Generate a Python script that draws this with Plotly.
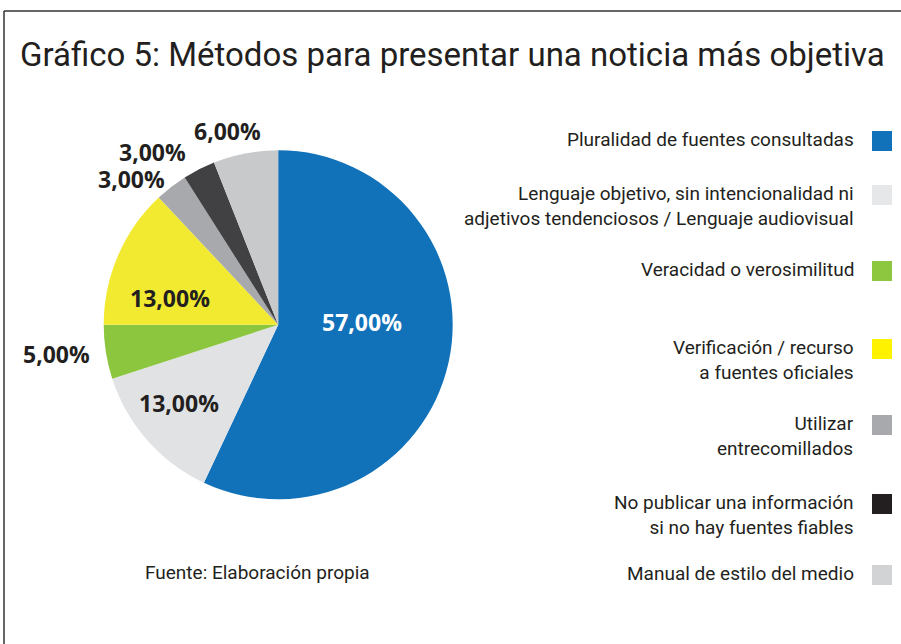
import plotly.graph_objects as go

W, H = 901, 644

categories = [
    "Pluralidad de fuentes consultadas",
    "Lenguaje objetivo, sin intencionalidad ni<br>adjetivos tendenciosos / Lenguaje audiovisual",
    "Veracidad o verosimilitud",
    "Verificación / recurso<br>a fuentes oficiales",
    "Utilizar<br>entrecomillados",
    "No publicar una información<br>si no hay fuentes fiables",
    "Manual de estilo del medio",
]
values = [57, 13, 5, 13, 3, 3, 6]
pie_colors = ["#1172ba", "#e1e2e4", "#8cc63f", "#f2ea31", "#a7a9ac", "#414042", "#c8c9cb"]
legend_colors = ["#1172ba", "#e6e7e8", "#8dc63f", "#fff200", "#a7a9ac", "#231f20", "#d1d3d4"]

TEXT = "#231f20"
FONT = "Roboto, Liberation Sans, sans-serif"
BOLD = "Open Sans, Noto Sans, sans-serif"


def px(x):
    return x / W


def py(y):
    return 1 - y / H


fig = go.Figure()
fig.add_trace(go.Pie(
    labels=[c.replace("<br>", " ") for c in categories],
    values=values,
    sort=False,
    direction="clockwise",
    rotation=0,
    marker=dict(colors=pie_colors, line=dict(width=0)),
    textinfo="none",
    hoverinfo="label+percent",
    showlegend=False,
    domain=dict(x=[px(103.7), px(452.7)], y=[py(499.5), py(150)]),
))

# slice value labels (positions in pixels)
label_pos = [(362, 322, "white"), (178.5, 403, TEXT), (57, 354, TEXT), (170, 298, TEXT),
             (131, 179, TEXT), (152, 152, TEXT), (227, 131, TEXT)]
annotations = []
for v, (lx, ly, col) in zip(values, label_pos):
    annotations.append(dict(
        x=px(lx), y=py(ly), xref="paper", yref="paper",
        text="<b>" + f"{v:.2f}".replace(".", ",") + "%</b>",
        showarrow=False, xanchor="center", yanchor="middle",
        font=dict(family=BOLD, size=23, color=col),
    ))

# legend on the right: text right-aligned, square to the right
legend_y = [141, 195, 271, 349, 425, 504, 575]
shapes = []
for cat, col, ly in zip(categories, legend_colors, legend_y):
    annotations.append(dict(
        x=px(856), y=py(ly - 15), xref="paper", yref="paper",
        text=cat, showarrow=False, xanchor="right", yanchor="top", align="right",
        font=dict(family=FONT, size=19, color=TEXT),
    ))
    shapes.append(dict(type="rect", xref="paper", yref="paper",
                       x0=px(872), x1=px(892), y0=py(ly + 10), y1=py(ly - 10),
                       fillcolor=col, line=dict(width=0)))

# title and source
annotations.append(dict(
    x=px(18), y=py(55), xref="paper", yref="paper",
    text="Gráfico 5: Métodos para presentar una noticia más objetiva",
    showarrow=False, xanchor="left", yanchor="middle",
    font=dict(family=FONT, size=33, color=TEXT),
))
annotations.append(dict(
    x=px(257), y=py(572), xref="paper", yref="paper",
    text="Fuente: Elaboración propia",
    showarrow=False, xanchor="center", yanchor="middle",
    font=dict(family=FONT, size=19, color=TEXT),
))

# frame lines (top and left)
shapes.append(dict(type="line", xref="paper", yref="paper",
                   x0=px(4), x1=1.01, y0=py(11), y1=py(11),
                   line=dict(color="#333333", width=1.5)))
shapes.append(dict(type="line", xref="paper", yref="paper",
                   x0=px(4), x1=px(4), y0=py(11), y1=-0.01,
                   line=dict(color="#333333", width=1.5)))

fig.update_layout(
    width=W, height=H,
    margin=dict(l=0, r=0, t=0, b=0),
    paper_bgcolor="white", plot_bgcolor="white",
    annotations=annotations, shapes=shapes,
)

fig.write_html("out.html", config={"displayModeBar": False},
               post_script="document.body.style.margin='0px';")
